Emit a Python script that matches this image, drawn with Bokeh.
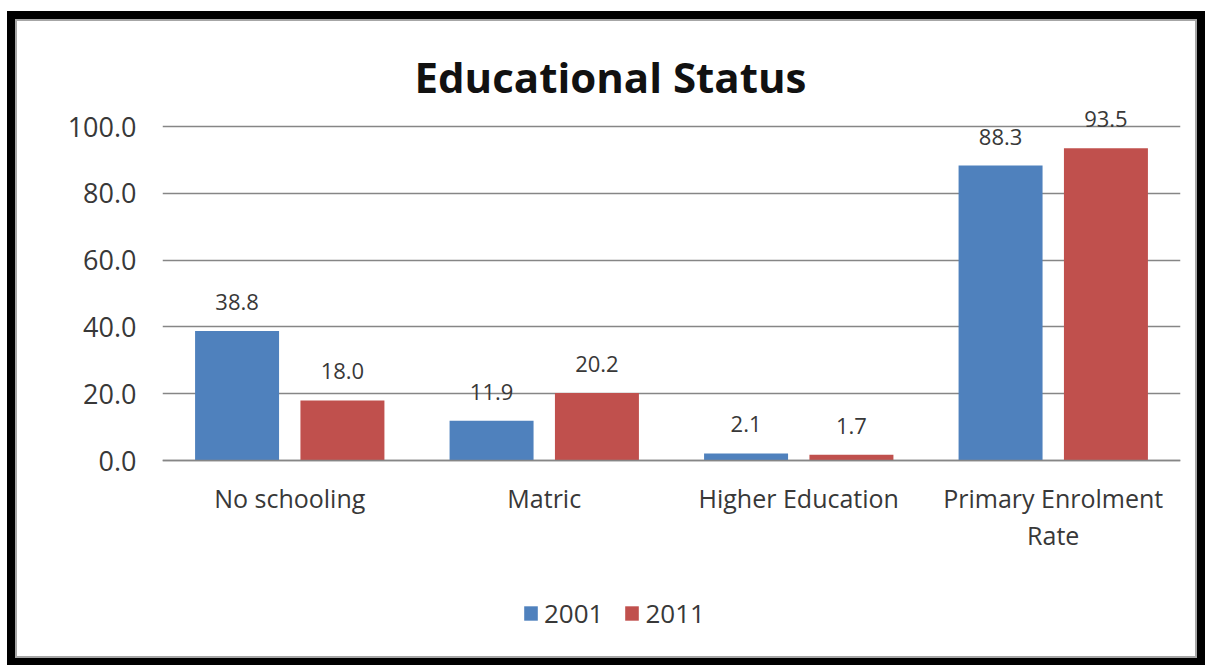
from bokeh.plotting import figure
from bokeh.models import (FactorRange, ColumnDataSource, Legend, LegendItem,
                          NumeralTickFormatter, FixedTicker)
from bokeh.transform import dodge
from bokeh.core.properties import value
from bokeh.embed import file_html
from bokeh.resources import INLINE

categories = ["No schooling", "Matric", "Higher Education", "Primary Enrolment\nRate"]
series_names = ["2001", "2011"]
values_2001 = [38.8, 11.9, 2.1, 88.3]
values_2011 = [18.0, 20.2, 1.7, 93.5]
y_ticks = [0, 20, 40, 60, 80, 100]
title_text = "Educational Status"

BLUE = "#4F81BD"
RED = "#C0504D"
TXT = "#383838"
GRID = "#868686"
FONT = "Open Sans"
W, H = 1182, 639
PX_PER_UNIT = 3.34          # vertical scale of the value axis
TOP_PAD, BOTTOM_PAD = 354, 185  # pixels of plot area above y=0 and below it

src = ColumnDataSource(dict(
    cat=categories,
    v2001=values_2001,
    v2011=values_2011,
    t2001=[f"{v:.1f}" for v in values_2001],
    t2011=[f"{v:.1f}" for v in values_2011],
))

p = figure(width=W, height=H, x_range=FactorRange(*categories),
           y_range=(-BOTTOM_PAD / PX_PER_UNIT, TOP_PAD / PX_PER_UNIT),
           output_backend="svg", toolbar_location=None,
           min_border_left=145, min_border_right=19, min_border_top=85, min_border_bottom=15)
p.x_range.range_padding = 0
p.outline_line_color = None
p.background_fill_color = "white"
p.border_fill_color = "white"
p.styles = {"border": "2px solid #a6a6a6", "outline": "8px solid black",
            "margin-left": "15px", "margin-top": "19px"}

# title
p.title.text = title_text
p.title.align = "left"
p.title.offset = 252
p.title.text_font = FONT
p.title.text_font_size = "42px"
p.title.text_font_style = "bold"
p.title.text_color = "#111111"
p.title.standoff = 4

off = 0.207
bw = 0.33
r1 = p.vbar(x=dodge("cat", -off, range=p.x_range), top="v2001", width=bw, source=src,
            fill_color=BLUE, line_color=None)
r2 = p.vbar(x=dodge("cat", off, range=p.x_range), top="v2011", width=bw, source=src,
            fill_color=RED, line_color=None)

for field, tfield, d in (("v2001", "t2001", -off), ("v2011", "t2011", off)):
    p.text(x=dodge("cat", d, range=p.x_range), y=field, text=tfield, source=src,
           text_align="center", text_baseline="alphabetic", y_offset=-29,
           text_font=value(FONT), text_font_size="22px", text_color=TXT)

# axes
p.yaxis.ticker = FixedTicker(ticks=y_ticks)
p.yaxis.formatter = NumeralTickFormatter(format="0.0")
p.yaxis.axis_line_color = None
p.yaxis.major_tick_line_color = None
p.yaxis.major_tick_out = 0
p.yaxis.minor_tick_line_color = None
p.yaxis.major_label_standoff = 26
p.yaxis.major_label_text_font = FONT
p.yaxis.major_label_text_font_size = "27px"
p.yaxis.major_label_text_color = TXT

xa = p.xaxis[0]
xa.fixed_location = 0
xa.axis_line_color = GRID
xa.axis_line_width = 1.5
xa.major_tick_line_color = None
xa.major_tick_out = 0
xa.minor_tick_line_color = None
xa.major_label_standoff = 20
xa.major_label_text_font = FONT
xa.major_label_text_font_size = "25px"
xa.major_label_text_line_height = 1.1
xa.major_label_text_color = TXT

p.xgrid.grid_line_color = None
p.ygrid.grid_line_color = GRID
p.ygrid.grid_line_width = 1.5

legend = Legend(items=[LegendItem(label=series_names[0], renderers=[r1]),
                       LegendItem(label=series_names[1], renderers=[r2])],
                orientation="horizontal", location=(360, 14),
                glyph_width=17, glyph_height=18, label_standoff=5, spacing=20,
                label_text_font=FONT, label_text_font_size="26px", label_text_color=TXT,
                border_line_color=None, background_fill_alpha=0, padding=0, margin=0)
p.add_layout(legend, "center")

open("out.html", "w").write(file_html(p, INLINE))
